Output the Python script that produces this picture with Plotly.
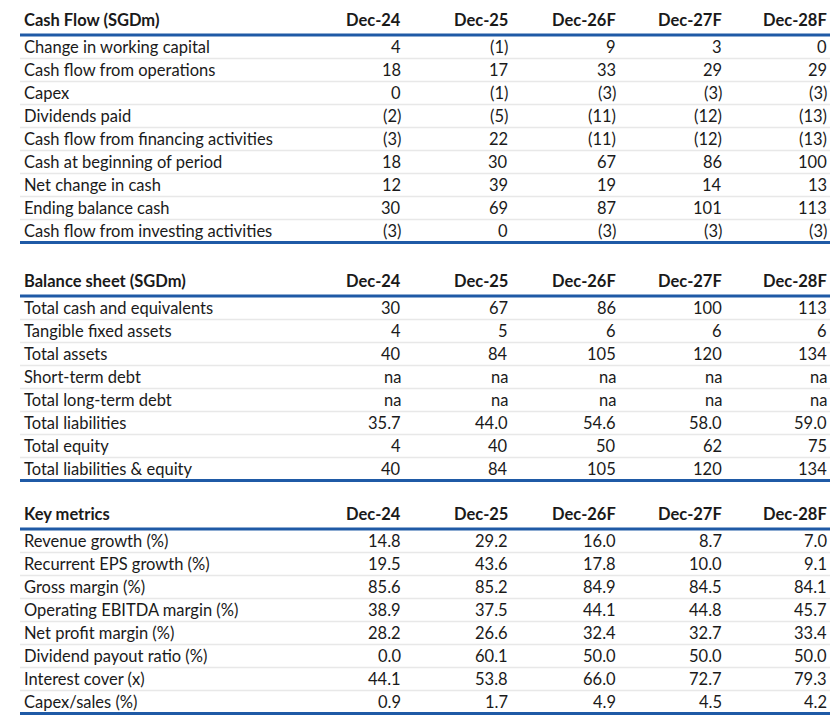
import plotly.graph_objects as go

years = ["Dec-24", "Dec-25", "Dec-26F", "Dec-27F", "Dec-28F"]

cf_title = "Cash Flow (SGDm)"
cf_rows = ["Change in working capital", "Cash flow from operations", "Capex", "Dividends paid",
           "Cash flow from financing activities", "Cash at beginning of period", "Net change in cash",
           "Ending balance cash", "Cash flow from investing activities"]
cf_vals = [["4", "(1)", "9", "3", "0"],
           ["18", "17", "33", "29", "29"],
           ["0", "(1)", "(3)", "(3)", "(3)"],
           ["(2)", "(5)", "(11)", "(12)", "(13)"],
           ["(3)", "22", "(11)", "(12)", "(13)"],
           ["18", "30", "67", "86", "100"],
           ["12", "39", "19", "14", "13"],
           ["30", "69", "87", "101", "113"],
           ["(3)", "0", "(3)", "(3)", "(3)"]]

bs_title = "Balance sheet (SGDm)"
bs_rows = ["Total cash and equivalents", "Tangible fixed assets", "Total assets", "Short-term debt",
           "Total long-term debt", "Total liabilities", "Total equity", "Total liabilities & equity"]
bs_vals = [["30", "67", "86", "100", "113"],
           ["4", "5", "6", "6", "6"],
           ["40", "84", "105", "120", "134"],
           ["na", "na", "na", "na", "na"],
           ["na", "na", "na", "na", "na"],
           ["35.7", "44.0", "54.6", "58.0", "59.0"],
           ["4", "40", "50", "62", "75"],
           ["40", "84", "105", "120", "134"]]

km_title = "Key metrics"
km_rows = ["Revenue growth (%)", "Recurrent EPS growth (%)", "Gross margin (%)", "Operating EBITDA margin (%)",
           "Net profit margin (%)", "Dividend payout ratio (%)", "Interest cover (x)", "Capex/sales (%)"]
km_vals = [["14.8", "29.2", "16.0", "8.7", "7.0"],
           ["19.5", "43.6", "17.8", "10.0", "9.1"],
           ["85.6", "85.2", "84.9", "84.5", "84.1"],
           ["38.9", "37.5", "44.1", "44.8", "45.7"],
           ["28.2", "26.6", "32.4", "32.7", "33.4"],
           ["0.0", "60.1", "50.0", "50.0", "50.0"],
           ["44.1", "53.8", "66.0", "72.7", "79.3"],
           ["0.9", "1.7", "4.9", "4.5", "4.2"]]

BLUE = "#1f5aa6"
GRID = "#e8e8e8"
X0, X1 = 20, 830
col_x = [403, 510, 618, 724, 829]
ROW_H = 23

fig = go.Figure()
ann = []
shapes = []

def add_table(top, title, rows, vals):
    ann.append(dict(x=X0 + 2, y=top, text="<b>" + title + "</b>", xanchor="left"))
    for cx, yr in zip(col_x, years):
        ann.append(dict(x=cx, y=top, text="<b>" + yr + "</b>", xanchor="right"))
    line_y = top + 15
    shapes.append(dict(type="line", x0=X0, x1=X1, y0=line_y, y1=line_y, line=dict(color=BLUE, width=3)))
    y = line_y + 12
    for i, (name, v) in enumerate(zip(rows, vals)):
        ann.append(dict(x=X0 + 2, y=y, text=name, xanchor="left"))
        for cx, t in zip(col_x, v):
            ann.append(dict(x=cx, y=y, text=t, xanchor="right"))
        ly = y + ROW_H / 2
        if i < len(rows) - 1:
            shapes.append(dict(type="line", x0=X0, x1=X1, y0=ly, y1=ly, line=dict(color=GRID, width=1.5)))
        else:
            shapes.append(dict(type="line", x0=X0, x1=X1, y0=ly, y1=ly, line=dict(color=BLUE, width=3)))
        y += ROW_H

add_table(20, cf_title, cf_rows, cf_vals)
add_table(281, bs_title, bs_rows, bs_vals)
add_table(514, km_title, km_rows, km_vals)

for a in ann:
    a.update(xref="x", yref="y", showarrow=False, yanchor="middle",
             font=dict(family="Lato", size=16.5, color="#1a1a1a"))

fig.update_layout(
    width=822, height=711, margin=dict(l=0, r=0, t=0, b=0),
    plot_bgcolor="white", paper_bgcolor="white",
    xaxis=dict(range=[8, 830], visible=False, fixedrange=True),
    yaxis=dict(range=[719, 8], visible=False, fixedrange=True),
    annotations=ann, shapes=shapes, showlegend=False,
)
fig.write_html("out.html")
